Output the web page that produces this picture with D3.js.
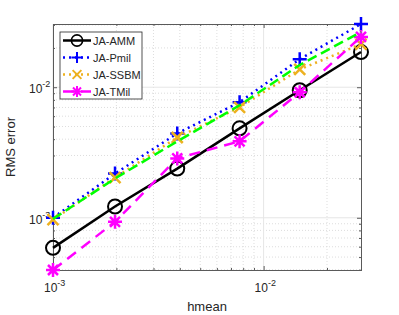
<!DOCTYPE html>
<html>
<head>
<meta charset="utf-8">
<script src="https://cdn.jsdelivr.net/npm/d3@7"></script>
<style>
  body { margin: 0; background: #fff; }
  text { font-family: "Liberation Sans", Arial, sans-serif; fill: #262626; }
</style>
</head>
<body>
<div class="chart"></div>
<script>
// data
const hmean = [1.0e-3, 1.97e-3, 3.89e-3, 7.69e-3, 1.484e-2, 2.90e-2];
const amm   = [5.88e-4, 1.22e-3, 2.38e-3, 4.84e-3, 9.48e-3, 1.86e-2];
const pmil  = [1.0e-3, 2.18e-3, 4.43e-3, 7.67e-3, 1.64e-2, 3.05e-2];
const ssbm  = [9.66e-4, 2.03e-3, 4.12e-3, 7.02e-3, 1.37e-2, 2.14e-2];
const tmil  = [3.98e-4, 9.31e-4, 2.85e-3, 3.85e-3, 9.15e-3, 2.43e-2];
const ref   = [9.8e-4, 2.0e-3, 3.85e-3, 7.27e-3, 1.48e-2, 2.65e-2];
const seriesNames = ["JA-AMM", "JA-Pmil", "JA-SSBM", "JA-TMil"];
const xTicks = [1e-3, 1e-2];
const yTicks = [1e-3, 1e-2];

const W = 399, H = 315;
const margin = { top: 24, right: 38, bottom: 45, left: 53 };
const width = W - margin.left - margin.right,
  height = H - margin.top - margin.bottom;

const series = [
  { name: seriesNames[0], values: amm, color: "#000000", dash: null, marker: "circle" },
  { name: seriesNames[1], values: pmil, color: "#0000ff", dash: "2,4", marker: "plus" },
  { name: seriesNames[2], values: ssbm, color: "#edb120", dash: "2,4", marker: "cross" },
  { name: seriesNames[3], values: tmil, color: "#ff00ff", dash: "11,7", marker: "star" },
  { name: null, values: ref, color: "#00ff00", dash: "10,5", marker: null }
];

const allY = d3.merge(series.map(s => s.values));
const x = d3.scaleLog().domain(d3.extent(hmean)).range([0, width]);
const y = d3.scaleLog().domain(d3.extent(allY)).range([height, 0]);

const svg = d3.select(".chart").append("svg")
  .attr("width", W)
  .attr("height", H)
  .append("g")
  .attr("transform", "translate(" + margin.left + "," + margin.top + ")");

// minor ticks (2..9 times each decade) inside the domain
function minorTicks(scale) {
  const d = scale.domain();
  const out = [];
  for (let e = -5; e <= 0; e++) {
    for (let m = 1; m <= 9; m++) {
      const v = m * Math.pow(10, e);
      if (v >= d[0] * 0.9999 && v <= d[1] * 1.0001) out.push(v);
    }
  }
  return out;
}
const xMinor = minorTicks(x).filter(v => xTicks.indexOf(v) < 0);
const yMinor = minorTicks(y).filter(v => !yTicks.some(t => Math.abs(t - v) < 1e-12));

// grid
const grid = svg.append("g");
grid.selectAll(".xm").data(xMinor).enter().append("line")
  .attr("x1", d => x(d)).attr("x2", d => x(d)).attr("y1", 0).attr("y2", height)
  .attr("stroke", "#d4d4d4").attr("stroke-dasharray", "1,2").attr("stroke-width", 0.8);
grid.selectAll(".ym").data(yMinor).enter().append("line")
  .attr("y1", d => y(d)).attr("y2", d => y(d)).attr("x1", 0).attr("x2", width)
  .attr("stroke", "#d4d4d4").attr("stroke-dasharray", "1,2").attr("stroke-width", 0.8);
grid.selectAll(".xM").data(xTicks).enter().append("line")
  .attr("x1", d => x(d)).attr("x2", d => x(d)).attr("y1", 0).attr("y2", height)
  .attr("stroke", "#e6e6e6").attr("stroke-width", 1);
grid.selectAll(".yM").data(yTicks).enter().append("line")
  .attr("y1", d => y(d)).attr("y2", d => y(d)).attr("x1", 0).attr("x2", width)
  .attr("stroke", "#e6e6e6").attr("stroke-width", 1);

// axes, ticks pointing inwards on all four sides
const axes = [
  { axis: d3.axisBottom(x), tr: "translate(0," + height + ")", major: -4, minor: -2 },
  { axis: d3.axisTop(x), tr: "translate(0,0)", major: -4, minor: -2 },
  { axis: d3.axisLeft(y), tr: "translate(0,0)", major: -4, minor: -2 },
  { axis: d3.axisRight(y), tr: "translate(" + width + ",0)", major: -4, minor: -2 }
];
axes.forEach(function (a, i) {
  const isX = i < 2;
  const g = svg.append("g").attr("transform", a.tr);
  g.call(a.axis.tickValues(isX ? xMinor : yMinor).tickSize(a.minor).tickFormat(""));
  g.append("g").call(a.axis.tickValues(isX ? xTicks : yTicks).tickSize(a.major).tickFormat(""));
  g.selectAll("path").attr("stroke", "#5a5a5a");
  g.selectAll("line").attr("stroke", "#5a5a5a");
});

// tick labels as 10^e
function expLabel(sel, v) {
  const e = Math.round(Math.log10(v));
  sel.append("tspan").text("10");
  sel.append("tspan").attr("dy", -6).attr("font-size", 9).text(e);
}
svg.selectAll(".xl").data(xTicks).enter().append("text")
  .attr("x", d => x(d) - 9).attr("y", height + 22)
  .attr("font-size", 12)
  .each(function (d) { expLabel(d3.select(this), d); });
svg.selectAll(".yl").data(yTicks).enter().append("text")
  .attr("x", -24).attr("y", d => y(d) + 6)
  .attr("font-size", 12)
  .each(function (d) { expLabel(d3.select(this), d); });

svg.append("text")
  .attr("x", width / 2).attr("y", height + 41)
  .attr("text-anchor", "middle").attr("font-size", 13)
  .text("hmean");
svg.append("text")
  .attr("transform", "translate(-38," + (height / 2) + ") rotate(-90)")
  .attr("text-anchor", "middle").attr("font-size", 13)
  .text("RMS error");

// markers
function drawMarker(g, type, color) {
  if (type === "circle") {
    g.append("circle").attr("r", 7).attr("fill", "none")
      .attr("stroke", color).attr("stroke-width", 2);
  } else if (type === "plus") {
    g.append("path").attr("d", "M-7,0H7M0,-7V7")
      .attr("stroke", color).attr("stroke-width", 2.5).attr("fill", "none");
  } else if (type === "cross") {
    g.append("path").attr("d", "M-5.5,-5.5L5.5,5.5M-5.5,5.5L5.5,-5.5")
      .attr("stroke", color).attr("stroke-width", 2.5).attr("fill", "none");
  } else if (type === "star") {
    g.append("path").attr("d", "M-7,0H7M0,-7V7M-5,-5L5,5M-5,5L5,-5")
      .attr("stroke", color).attr("stroke-width", 2.5).attr("fill", "none");
  }
}

const line = d3.line()
  .x((d, i) => x(hmean[i]))
  .y(d => y(d));

const plot = svg.append("g");
series.forEach(function (s) {
  const g = plot.append("g");
  g.append("path")
    .attr("d", line(s.values))
    .attr("fill", "none")
    .attr("stroke", s.color)
    .attr("stroke-width", 2.5)
    .attr("stroke-dasharray", s.dash);
  if (s.marker) {
    g.selectAll(".m").data(s.values).enter().append("g")
      .attr("transform", (d, i) => "translate(" + x(hmean[i]) + "," + y(d) + ")")
      .each(function () { drawMarker(d3.select(this), s.marker, s.color); });
  }
});

// legend
const legend = svg.append("g").attr("transform", "translate(7,8)");
legend.append("rect")
  .attr("width", 82).attr("height", 67)
  .attr("fill", "#fff").attr("stroke", "#262626").attr("stroke-width", 0.8);
series.filter(s => s.name).forEach(function (s, i) {
  const row = legend.append("g").attr("transform", "translate(0," + (8.5 + i * 17) + ")");
  row.append("line")
    .attr("x1", 3).attr("x2", 31).attr("y1", 0).attr("y2", 0)
    .attr("stroke", s.color).attr("stroke-width", 2.5)
    .attr("stroke-dasharray", s.dash);
  const m = row.append("g").attr("transform", "translate(17,0)");
  drawMarker(m, s.marker, s.color);
  m.attr("transform", "translate(17,0) scale(0.8)");
  row.append("text")
    .attr("x", 33).attr("y", 4).attr("font-size", 11)
    .text(s.name);
});
</script>
</body>
</html>
